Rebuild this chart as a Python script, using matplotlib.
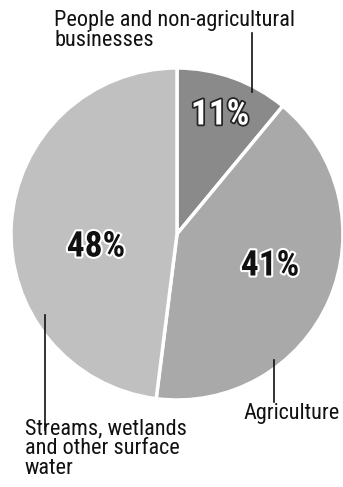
import matplotlib
matplotlib.use('Agg')
import matplotlib.pyplot as plt
import matplotlib.patheffects as pe

# share of the total, clockwise from 12 o'clock
labels = ['People and non-agricultural\nbusinesses', 'Agriculture',
          'Streams, wetlands\nand other surface\nwater']
shares = [11, 41, 48]
pct_text = ['11%', '41%', '48%']
colors = ['#8a8a8a', '#a9a9a9', '#c0c0c0']

W, H = 343, 487
fig = plt.figure(figsize=(W/100, H/100), dpi=100)
ax = fig.add_axes([0, 0, 1, 1])

cx, cy, R = 177, 253, 166
ax.pie(shares, colors=colors, startangle=90, counterclock=False,
       center=(cx, cy), radius=R, frame=True,
       wedgeprops=dict(edgecolor='white', linewidth=2.5))
ax.set_xlim(0, W)
ax.set_ylim(0, H)
ax.set_aspect('equal')
ax.axis('off')

fam = ['Roboto Condensed', 'Roboto', 'DejaVu Sans']
# percentage labels
ax.text(220, H-115, pct_text[0], family=fam, weight='bold', fontsize=25.5,
        stretch='condensed', color='white', ha='center', va='center',
        path_effects=[pe.withStroke(linewidth=2.5, foreground='#222222')])
ax.text(270, H-266, pct_text[1], family=fam, weight='bold', fontsize=25.5,
        stretch='condensed', color='#111111', ha='center', va='center',
        path_effects=[pe.withStroke(linewidth=3, foreground='white')])
ax.text(96, H-247, pct_text[2], family=fam, weight='bold', fontsize=25.5,
        stretch='condensed', color='#111111', ha='center', va='center',
        path_effects=[pe.withStroke(linewidth=3, foreground='white')])

# callout labels and leader lines
ax.text(54, H-10, labels[0], family=fam, fontsize=16, color='#111111',
        ha='left', va='top', linespacing=0.95)
ax.plot([252, 252], [H-33, H-92], color='#111111', lw=1.2)

ax.text(243, H-403, labels[1], family=fam, fontsize=16, color='#111111',
        ha='left', va='top')
ax.plot([274, 274], [H-360, H-402], color='#111111', lw=1.2)

ax.text(25, H-418, labels[2], family=fam, fontsize=16, color='#111111',
        ha='left', va='top', linespacing=0.95)
ax.plot([45, 45], [H-315, H-430], color='#111111', lw=1.2)

fig.savefig('out.png', dpi=100)
